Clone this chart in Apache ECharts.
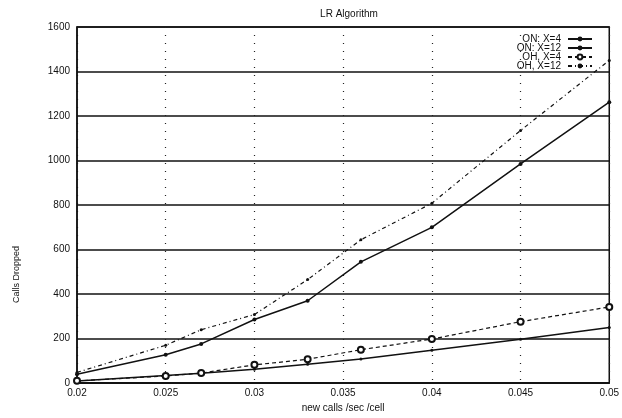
<!DOCTYPE html>
<html>
<head>
<meta charset="utf-8">
<script src="https://cdn.jsdelivr.net/npm/echarts@6/dist/echarts.min.js"></script>
<style>html,body{margin:0;padding:0;background:#fff}#c{width:622px;height:418px}</style>
</head>
<body>
<div id="c"></div>
<script>
var xValues = [0.02, 0.025, 0.027, 0.03, 0.033, 0.036, 0.04, 0.045, 0.05];
var onX4 = [40, 127, 176, 286, 370, 545, 700, 985, 1262];
var onX12 = [9, 34, 44, 62, 85, 108, 148, 197, 250];
var ohX4 = [10, 32, 45, 82, 107, 150, 198, 276, 342];
var ohX12 = [48, 170, 240, 308, 465, 644, 808, 1135, 1450];
var seriesNames = ['ON: X=4', 'ON: X=12', 'OH, X=4', 'OH, X=12'];

function pairs(ys) { return xValues.map(function (x, i) { return [x, ys[i]]; }); }

var chart = echarts.init(document.getElementById('c'));
var font = 'Liberation Sans, Arial, sans-serif';
chart.setOption({
  backgroundColor: '#fff',
  animation: false,
  title: {
    text: 'LR Algorithm', left: 344, top: 4, textAlign: 'center',
    textStyle: { fontSize: 10, fontWeight: 'normal', color: '#111', fontFamily: font }
  },
  legend: {
    orient: 'vertical', right: 24, top: 29, align: 'right',
    itemWidth: 24, itemHeight: 6, itemGap: -1,
    textStyle: { fontSize: 10, color: '#111', fontFamily: font, padding: [0, 2, 0, 0] },
    data: seriesNames
  },
  grid: { left: 77, right: 11, top: 27, bottom: 31, show: true, borderColor: '#111', borderWidth: 1.5 },
  xAxis: {
    type: 'value', min: 0.02, max: 0.05, interval: 0.005,
    name: 'new calls /sec /cell', nameLocation: 'middle', nameGap: 17,
    nameTextStyle: { fontSize: 10, color: '#111', fontFamily: font },
    axisLine: { show: true, lineStyle: { color: '#111', width: 1.5 } },
    axisTick: { show: false },
    axisLabel: { fontSize: 10, color: '#111', fontFamily: font, margin: 5,
      formatter: function (v) { return String(+v.toFixed(3)); } },
    splitLine: { show: true, lineStyle: { color: '#222', type: [1, 7], width: 1.2 } }
  },
  yAxis: {
    type: 'value', min: 0, max: 1600, interval: 200,
    axisLine: { show: true, lineStyle: { color: '#111', width: 1.5 } },
    axisTick: { show: false },
    axisLabel: { fontSize: 10, color: '#111', fontFamily: font, margin: 7,
      formatter: function (v) { return String(v); } },
    splitLine: { show: true, lineStyle: { color: '#111', width: 1.5 } }
  },
  graphic: [{
    type: 'text', left: 12, top: 246, rotation: Math.PI / 2,
    style: { text: 'Calls Dropped', fontSize: 9, fill: '#111', font: '9px ' + font }
  }],
  series: [
    { name: seriesNames[0], type: 'line', data: pairs(onX4), symbol: 'circle', symbolSize: 4,
      itemStyle: { color: '#111' }, lineStyle: { color: '#111', width: 1.5, type: 'solid' } },
    { name: seriesNames[1], type: 'line', data: pairs(onX12), symbol: 'circle', symbolSize: 3,
      itemStyle: { color: '#111' }, lineStyle: { color: '#111', width: 1.5, type: 'solid' } },
    { name: seriesNames[2], type: 'line', data: pairs(ohX4), symbol: 'emptyCircle', symbolSize: 6,
      itemStyle: { color: '#111', borderWidth: 1.2 }, lineStyle: { color: '#111', width: 1.2, type: [4, 3] } },
    { name: seriesNames[3], type: 'line', data: pairs(ohX12), symbol: 'circle', symbolSize: 3,
      itemStyle: { color: '#111' }, lineStyle: { color: '#111', width: 1.2, type: [4, 3, 1, 3] } }
  ]
});
</script>
</body>
</html>
